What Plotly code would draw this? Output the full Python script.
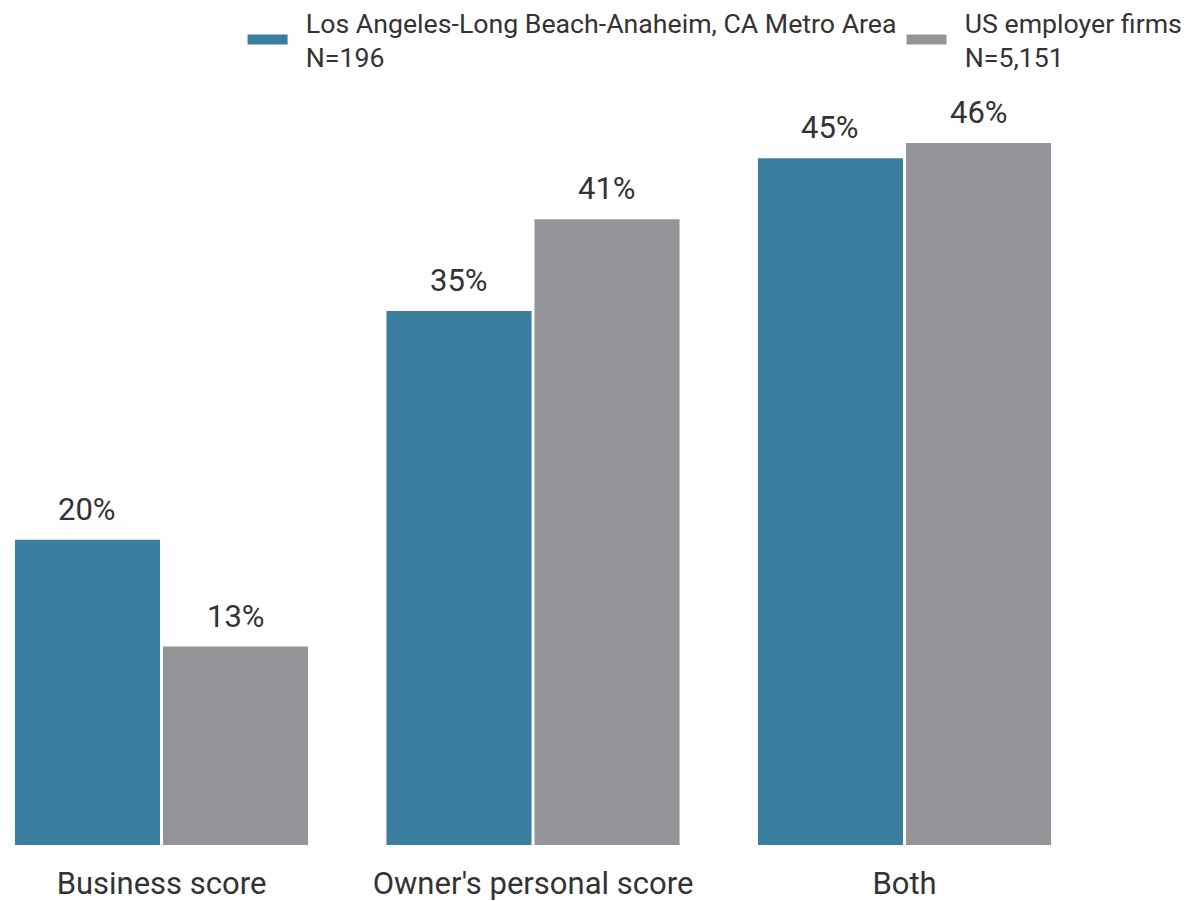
import plotly.graph_objects as go

categories = ["Business score", "Owner's personal score", "Both"]
la_values = [20, 35, 45]
us_values = [13, 41, 46]
series_labels = [("Los Angeles-Long Beach-Anaheim, CA Metro Area", "N=196"),
                 ("US employer firms", "N=5,151")]
colors = ["#3A7D9F", "#949599"]

BARGAP = 0.203
TEXT_COLOR = "#333333"
FONT = "Roboto"
INDENT = "\u00a0\u00a0"

fig = go.Figure()
for (title, n), vals, col in zip(series_labels, [la_values, us_values], colors):
    name = f"{INDENT}{title}<br>{INDENT}{n}"
    fig.add_trace(go.Bar(x=categories, y=vals, name=name, marker_color=col,
                         marker_line_width=0, showlegend=False))
    # legend proxy (wide rectangle symbol)
    fig.add_trace(go.Scatter(x=[None], y=[None], mode="lines", name=name,
                             line=dict(color=col, width=12)))

# value labels above bars, offsets derived from the grouped-bar geometry
slot = (1 - BARGAP) / 2
for k, vals in enumerate([la_values, us_values]):
    off = -slot / 2 if k == 0 else slot / 2
    for i, v in enumerate(vals):
        fig.add_annotation(x=i + off, y=v, text=f"{v}%", showarrow=False,
                           yanchor="bottom", yshift=10,
                           font=dict(family=FONT, size=31, color=TEXT_COLOR))

fig.update_layout(
    width=1192, height=901,
    margin=dict(l=0, r=0, t=74, b=64, autoexpand=False),
    paper_bgcolor="white", plot_bgcolor="white",
    barmode="group", bargap=BARGAP, bargroupgap=0.02,
    font=dict(family=FONT, color=TEXT_COLOR),
    legend=dict(orientation="h", x=0.1968, xanchor="left", y=1.001, yanchor="bottom",
                font=dict(family=FONT, size=26.7, color=TEXT_COLOR),
                itemwidth=40, traceorder="normal"),
    xaxis=dict(range=[-0.4132, 2.7954], showgrid=False, zeroline=False,
               showline=False, ticks="", ticklabelstandoff=17,
               tickfont=dict(size=31, color=TEXT_COLOR)),
    yaxis=dict(range=[0, 50], visible=False, showgrid=False, zeroline=False),
)

fig.write_html("out.html")
